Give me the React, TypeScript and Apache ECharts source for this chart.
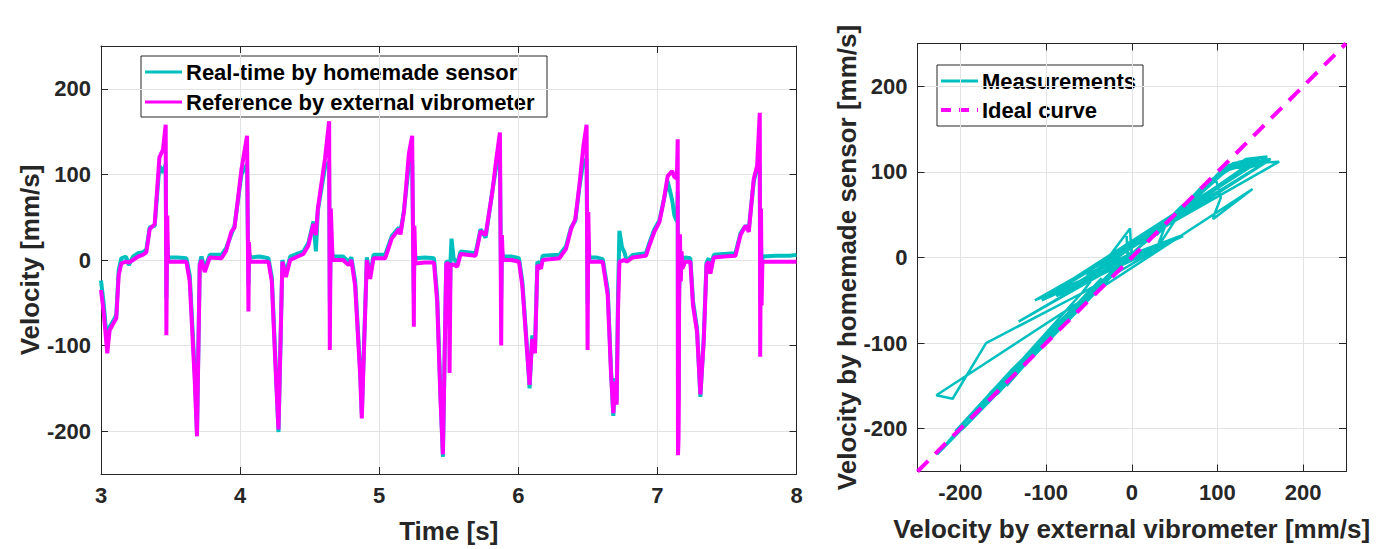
import React, { useEffect, useRef } from "react";
import * as echarts from "echarts";

// ---- data ----
const timeS = [
  3.000, 3.020, 3.045, 3.062, 3.085, 3.110, 3.127, 3.146, 3.180, 3.200, 3.230, 3.266, 3.300, 3.326, 3.350, 3.386, 3.420, 3.446, 3.465, 3.470, 3.476, 3.482,
  3.550, 3.614, 3.638, 3.674, 3.690, 3.710, 3.722, 3.746, 3.782, 3.866, 3.900, 3.937, 3.960, 4.010, 4.050, 4.060, 4.064, 4.070,
  4.140, 4.204, 4.228, 4.257, 4.276, 4.304, 4.329, 4.360, 4.455, 4.491, 4.527, 4.545, 4.559, 4.610, 4.640, 4.645, 4.652, 4.665,
  4.740, 4.780, 4.800, 4.827, 4.863, 4.875, 4.911, 4.935, 4.959, 5.043, 5.090, 5.142, 5.153, 5.178, 5.214, 5.237, 5.249, 5.253, 5.260,
  5.330, 5.394, 5.417, 5.441, 5.458, 5.482, 5.500, 5.506, 5.513, 5.520, 5.535, 5.561, 5.585, 5.693, 5.729, 5.765, 5.813, 5.842, 5.868, 5.877, 5.882, 5.889,
  5.950, 6.005, 6.029, 6.065, 6.081, 6.100, 6.120, 6.137, 6.163, 6.175, 6.295, 6.343, 6.379, 6.410, 6.439, 6.468, 6.491, 6.498, 6.503, 6.510,
  6.560, 6.607, 6.643, 6.667, 6.683, 6.698, 6.707, 6.717, 6.727, 6.745, 6.763, 6.780, 6.822, 6.918, 6.942, 6.978, 7.014, 7.043, 7.074, 7.106, 7.122, 7.140, 7.146, 7.148, 7.152, 7.154, 7.156, 7.162, 7.168, 7.174, 7.180,
  7.200, 7.237, 7.256, 7.285, 7.309, 7.333, 7.353, 7.369, 7.381, 7.405, 7.480, 7.561, 7.597, 7.633, 7.657, 7.693, 7.717, 7.736, 7.739, 7.745, 7.749, 7.755,
  7.850, 7.950, 8.000,
];

// Reference by external vibrometer [mm/s]
const vibrometer = [
  -35, -62, -109, -82, -75, -68, -18, -4, -2, -3, 0, 4, 6, 9, 36, 42, 120, 129, 158, -88, 52, -2,
  -2, -2, -25, -141, -206, -6, 0, -14, 3, 2, 11, 33, 38, 106, 145, -60, 21, -2,
  -2, -2, -25, -134, -198, -2, -20, 0, 7, 17, 42, 29, 60, 118, 162, -105, 60, 0,
  0, -6, 0, -30, -134, -185, 0, -22, 2, 2, 25, 36, 30, 56, 125, 145, -78, 40, -4,
  -3, -3, -49, -165, -227, -4, -4, -132, -4, -6, -5, -8, 7, 5, 34, 29, 79, 118, 149, -100, 29, 0,
  0, -2, -30, -111, -146, -92, -109, -6, -10, 0, 2, 13, 36, 48, 87, 133, 158, -105, 56, -2,
  -2, -2, -41, -134, -179, -142, -169, -57, -2, -1, 0, -2, 3, 5, 17, 33, 44, 67, 98, 104, 97, 95, 141, -228, -209, -170, -55, 30, -25, 10, -10,
  -2, -2, -53, -84, -157, -95, -6, -2, -16, 3, 4, 5, 29, 40, 33, 95, 110, 172, -113, 60, -53, -2,
  -2, -2, -2,
];

// Real-time by homemade sensor [mm/s]
const homemade = [
  -24, -52, -100, -78, -72, -64, -12, 2, 4, -6, 4, 8, 9, 12, 38, 40, 110, 102, 112, -45, 22, 3,
  3, 2, -18, -132, -203, -4, 4, -10, 6, 6, 14, 30, 40, 100, 112, -30, 10, 3,
  4, 2, -20, -128, -201, 0, -16, 4, 10, 20, 45, 10, 58, 108, 115, -50, 25, 4,
  4, -2, 3, -24, -128, -180, 3, -18, 6, 6, 28, 38, 32, 58, 112, 115, -40, 18, 2,
  3, 2, -42, -158, -230, -2, -2, -75, 0, 25, 2, -4, 10, 8, 36, 26, 80, 110, 115, -45, 12, 4,
  4, 2, -25, -108, -150, -88, -104, -2, -6, 5, 6, 16, 38, 46, 85, 115, 118, -50, 25, 3,
  3, 1, -35, -130, -182, -138, -165, -40, 34, 15, 9, -1, 6, 8, 20, 36, 46, 68, 92, 70, 52, 45, 80, -161, -165, -100, -40, 10, -15, 5, 0,
  3, 2, -48, -80, -160, -92, -3, 2, -12, 6, 7, 8, 31, 40, 36, 92, 108, 112, -50, 25, -20, 4,
  5, 5, 6,
];

const timeTicks = [3, 4, 5, 6, 7, 8];
const velocityTicks = [-200, -100, 0, 100, 200];
const idealCurve = [[-250, -250], [250, 250]];
const leftLegend = ["Real-time by homemade sensor", "Reference by external vibrometer"];
const rightLegend = ["Measurements", "Ideal curve"];

const FONT = '"Liberation Sans", Arial, Helvetica, sans-serif';
const INK = "#262626";
const GRID = "#e3e3e3";
const CYAN = "#00BFBF";
const MAGENTA = "#FF00FF";

function axis(
  gridIndex: number,
  position: string,
  min: number,
  max: number,
  ticks: number[] | null,
  interval: number | null,
  showLabels: boolean,
  name: string,
  nameGap: number
) {
  const a: any = {
    type: "value",
    gridIndex,
    position,
    min,
    max,
    axisLine: { show: true, onZero: false, lineStyle: { color: INK, width: 1 } },
    axisTick: { show: true, inside: true, length: 7, lineStyle: { color: INK, width: 1 } },
    axisLabel: {
      show: showLabels,
      color: INK,
      fontSize: 22,
      fontWeight: "bold",
      fontFamily: FONT,
      margin: 10,
    },
    splitLine: { show: showLabels, lineStyle: { color: GRID, width: 1 } },
    name: showLabels ? name : "",
    nameLocation: "middle",
    nameGap,
    nameTextStyle: { color: INK, fontSize: 26, fontWeight: "bold", fontFamily: FONT },
  };
  if (interval != null) a.interval = interval;
  if (ticks) {
    a.axisTick.customValues = ticks;
    a.axisLabel.customValues = ticks;
  }
  return a;
}

function legendBox(x: number, y: number, w: number, h: number, rows: { label: string; color: string; dash: boolean; y: number }[]) {
  const children: any[] = [
    { type: "rect", shape: { x, y, width: w, height: h }, style: { fill: "#fff", stroke: INK, lineWidth: 1 } },
  ];
  rows.forEach((r) => {
    children.push({
      type: "line",
      shape: { x1: x + 4, y1: r.y, x2: x + 41, y2: r.y },
      style: { stroke: r.color, lineWidth: r.dash ? 4 : 3, lineDash: r.dash ? [10, 8] : null },
    });
    children.push({
      type: "text",
      style: {
        text: r.label,
        x: x + 45,
        y: r.y,
        fill: "#000",
        font: `bold 22px ${FONT}`,
        verticalAlign: "middle",
        align: "left",
      },
    });
  });
  return { type: "group", children, z: 100 };
}

export default function App() {
  const ref = useRef<HTMLDivElement>(null);

  useEffect(() => {
    if (!ref.current) return;
    const chart = echarts.init(ref.current, undefined, { renderer: "svg" });

    const refSeries = timeS.map((t, i) => [t, vibrometer[i]]);
    const senSeries = timeS.map((t, i) => [t, homemade[i]]);
    const scatter = timeS.map((_, i) => [vibrometer[i], homemade[i]]);

    chart.setOption({
      animation: false,
      backgroundColor: "#fff",
      grid: [
        { left: 101, top: 46, width: 695.5, height: 430 },
        { left: 917.5, top: 43.5, width: 428.5, height: 428 },
      ],
      xAxis: [
        axis(0, "bottom", 3, 8, null, 1, true, "Time [s]", 44),
        axis(0, "top", 3, 8, null, 1, false, "", 0),
        axis(1, "bottom", -250, 250, velocityTicks, null, true, "Velocity by external vibrometer [mm/s]", 44),
        axis(1, "top", -250, 250, velocityTicks, null, false, "", 0),
      ],
      yAxis: [
        axis(0, "left", -250, 250, velocityTicks, null, true, "Velocity [mm/s]", 57),
        axis(0, "right", -250, 250, velocityTicks, null, false, "", 0),
        axis(1, "left", -250, 250, velocityTicks, null, true, "Velocity by homemade sensor [mm/s]", 50),
        axis(1, "right", -250, 250, velocityTicks, null, false, "", 0),
      ],
      series: [
        {
          name: leftLegend[0],
          type: "line",
          xAxisIndex: 0,
          yAxisIndex: 0,
          data: senSeries,
          showSymbol: false,
          symbol: "none",
          lineStyle: { color: CYAN, width: 4 },
          z: 2,
        },
        {
          name: leftLegend[1],
          type: "line",
          xAxisIndex: 0,
          yAxisIndex: 0,
          data: refSeries,
          showSymbol: false,
          symbol: "none",
          lineStyle: { color: MAGENTA, width: 4 },
          z: 3,
        },
        {
          name: rightLegend[0],
          type: "line",
          xAxisIndex: 2,
          yAxisIndex: 2,
          data: scatter,
          showSymbol: false,
          symbol: "none",
          lineStyle: { color: CYAN, width: 2.5 },
          z: 2,
        },
        {
          name: rightLegend[1],
          type: "line",
          xAxisIndex: 2,
          yAxisIndex: 2,
          data: idealCurve,
          showSymbol: false,
          symbol: "none",
          clip: false,
          lineStyle: { color: MAGENTA, width: 4, type: [15, 10] },
          z: 3,
        },
      ],
      graphic: [
        legendBox(141, 56, 406, 61, [
          { label: leftLegend[0], color: CYAN, dash: false, y: 72 },
          { label: leftLegend[1], color: MAGENTA, dash: false, y: 102 },
        ]),
        legendBox(937, 65, 206, 61, [
          { label: rightLegend[0], color: CYAN, dash: false, y: 81 },
          { label: rightLegend[1], color: MAGENTA, dash: true, y: 110 },
        ]),
      ],
    });

    return () => chart.dispose();
  }, []);

  return (
    <div
      ref={ref}
      style={{ position: "fixed", left: 0, top: 0, width: 1400, height: 549, background: "#fff" }}
    />
  );
}
